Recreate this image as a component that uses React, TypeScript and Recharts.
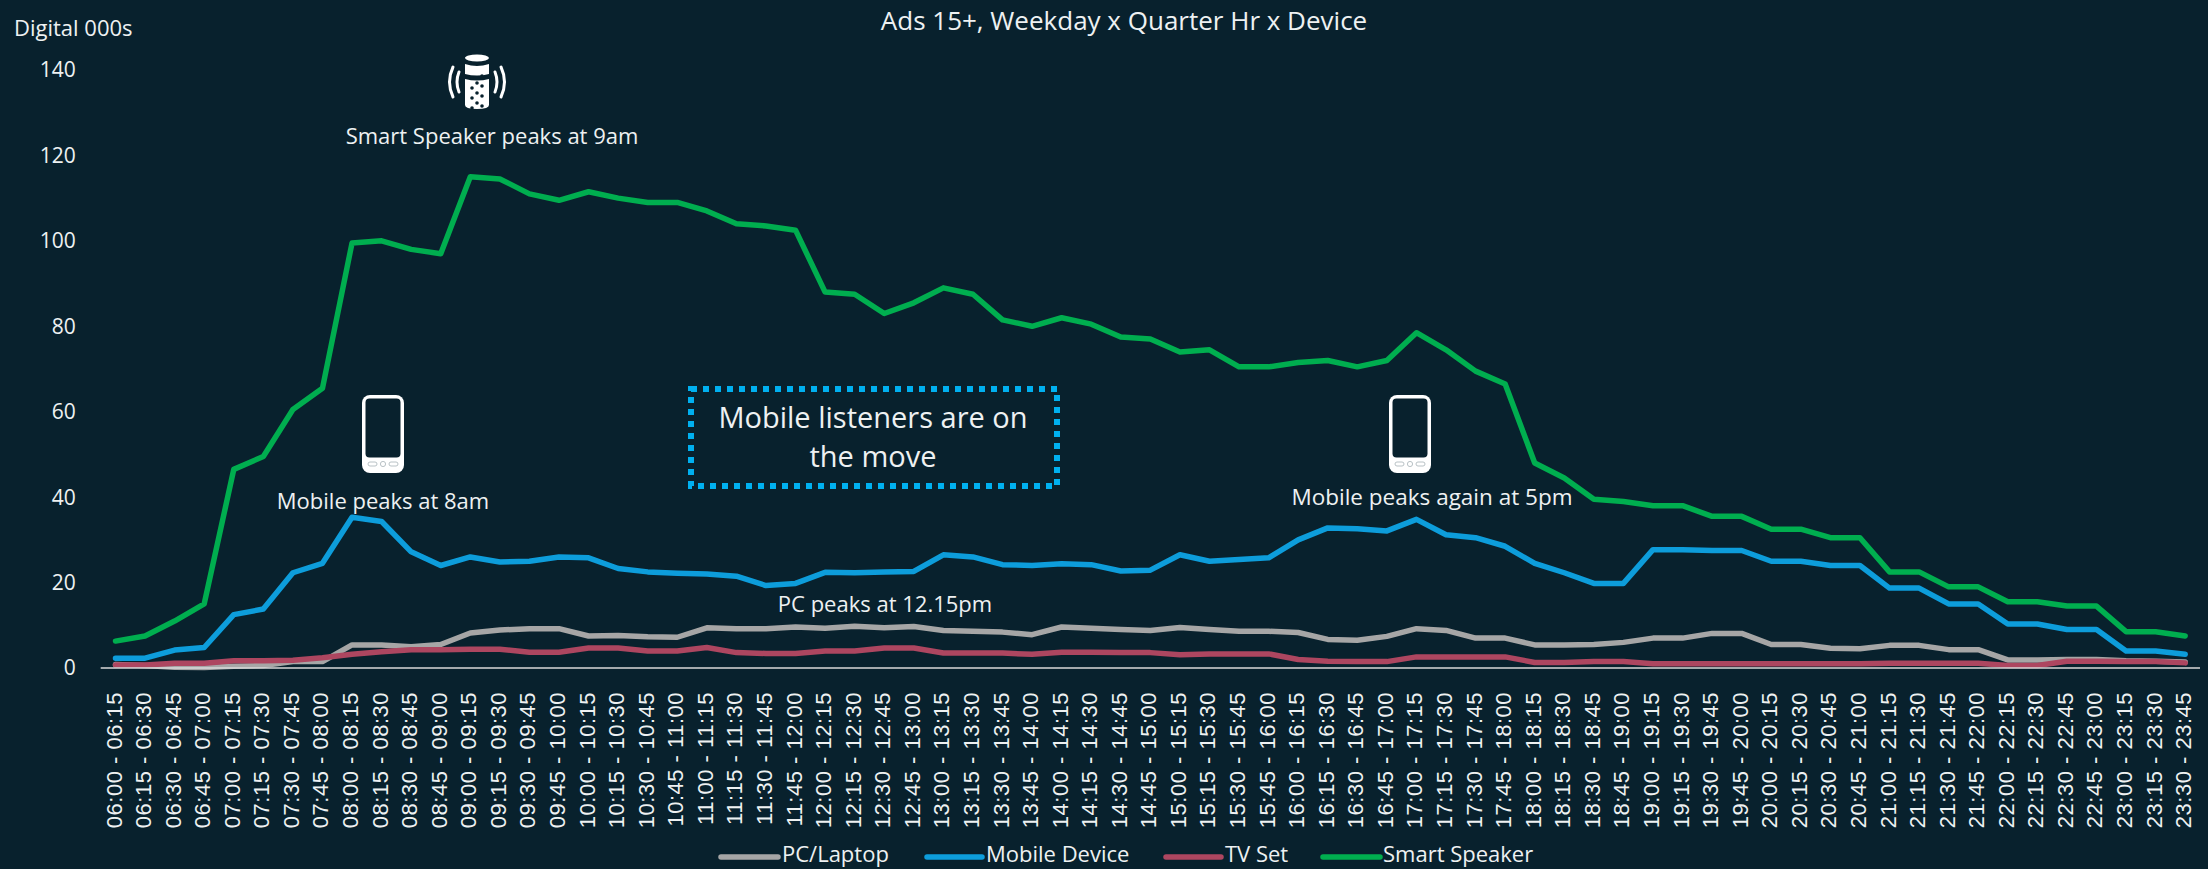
import React from 'react';
import { LineChart, Line, XAxis, YAxis, Legend } from 'recharts';

const hours = ['06', '07', '08', '09', '10', '11', '12', '13', '14', '15', '16', '17', '18', '19', '20', '21', '22', '23'];
const quarters = ['00', '15', '30', '45'];

const starts: string[] = hours.flatMap(h => quarters.map(q => `${h}:${q}`)).slice(0, 71);
const ends: string[] = hours.flatMap(h => quarters.map(q => `${h}:${q}`)).slice(1, 72);
const categories = starts.map((s, i) => `${s} - ${ends[i]}`);

const pcLaptop = [
  0.8, 0.6, 0.2, 0.1, 0.4, 0.6, 1.5, 1.5,
  5.4, 5.4, 5, 5.5, 8.2, 8.9, 9.2, 9.2,
  7.5, 7.6, 7.3, 7.2, 9.4, 9.2, 9.2, 9.6,
  9.3, 9.8, 9.4, 9.7, 8.8, 8.6, 8.4, 7.8,
  9.6, 9.3, 9, 8.8, 9.5, 9, 8.6, 8.6,
  8.3, 6.7, 6.5, 7.4, 9.2, 8.8, 7, 7,
  5.4, 5.4, 5.5, 6, 7, 7, 8.1, 8.1,
  5.5, 5.5, 4.6, 4.5, 5.3, 5.3, 4.3, 4.3,
  1.9, 1.9, 2, 2, 1.7, 1.6, 1.4,
];

const mobileDevice = [
  2.3, 2.3, 4.2, 4.8, 12.5, 13.8, 22.3, 24.5,
  35.3, 34.3, 27.2, 24, 26, 24.8, 25, 26,
  25.8, 23.3, 22.5, 22.2, 22, 21.5, 19.3, 19.8,
  22.4, 22.3, 22.5, 22.6, 26.5, 26, 24.2, 24,
  24.4, 24.2, 22.7, 22.9, 26.5, 25, 25.4, 25.8,
  30, 32.8, 32.6, 32.1, 34.8, 31.2, 30.5, 28.5,
  24.5, 22.3, 19.8, 19.8, 27.7, 27.7, 27.5, 27.5,
  25, 25, 24, 24, 18.7, 18.7, 15, 15,
  10.3, 10.3, 9, 9, 4, 4, 3.2,
];

const tvSet = [
  0.7, 0.7, 1.1, 1.1, 1.7, 1.7, 1.8, 2.4,
  3.2, 3.8, 4.3, 4.3, 4.4, 4.4, 3.7, 3.7,
  4.7, 4.7, 4, 4, 4.8, 3.6, 3.4, 3.4,
  4, 4, 4.7, 4.7, 3.5, 3.5, 3.5, 3.2,
  3.7, 3.7, 3.6, 3.6, 3.1, 3.3, 3.3, 3.3,
  2, 1.6, 1.5, 1.5, 2.6, 2.6, 2.6, 2.6,
  1.3, 1.3, 1.5, 1.5, 1, 1, 1, 1,
  1, 1, 1, 1, 1.1, 1.1, 1.1, 1.1,
  0.6, 0.6, 1.6, 1.6, 1.5, 1.5, 1.2,
];

const smartSpeaker = [
  6.3, 7.5, 11, 15, 46.5, 49.5, 60.5, 65.5,
  99.5, 100, 98, 97, 115, 114.5, 111, 109.5,
  111.5, 110, 109, 109, 107, 104, 103.5, 102.5,
  88, 87.5, 83, 85.5, 89, 87.5, 81.5, 80,
  82, 80.5, 77.5, 77, 74, 74.5, 70.5, 70.5,
  71.5, 72, 70.5, 72, 78.5, 74.5, 69.5, 66.5,
  48, 44.5, 39.5, 39, 38, 38, 35.5, 35.5,
  32.5, 32.5, 30.5, 30.5, 22.5, 22.5, 19, 19,
  15.5, 15.5, 14.5, 14.5, 8.5, 8.5, 7.5,
];

const yTicks = [0, 20, 40, 60, 80, 100, 120, 140];

const data = categories.map((name, i) => ({
  name,
  pc: pcLaptop[i],
  mobile: mobileDevice[i],
  tv: tvSet[i],
  smart: smartSpeaker[i],
}));

const BG = '#08212d';
const TEXT = '#eef1f2';
const UI_FONT = '"Open Sans", sans-serif';

const XTick = ({ x, y, payload }: any) => (
  <text
    x={x}
    y={y}
    transform={`rotate(-90 ${x} ${y})`}
    textAnchor="end"
    dy={6}
    dx={-16}
    fill={TEXT}
    fontSize={22}
    letterSpacing={0.5}
    fontFamily='"Liberation Sans", Arial, sans-serif'
  >
    {payload.value}
  </text>
);

// swatch start, swatch end and text start for each legend entry
const legendSlots = [
  [721, 778, 782],
  [927, 982, 986],
  [1166, 1221, 1225],
  [1323, 1380, 1383],
];

const LegendContent = ({ payload }: any) => (
  <svg width={2208} height={44} style={{ display: 'block' }}>
    {(payload || []).map((p: any, i: number) => (
      <g key={p.value}>
        <line x1={legendSlots[i][0]} x2={legendSlots[i][1]} y1={32} y2={32} stroke={p.color} strokeWidth={5.5} strokeLinecap="round" />
        <text x={legendSlots[i][2]} y={37} fill={TEXT} fontSize={22} fontFamily={UI_FONT}>{p.value}</text>
      </g>
    ))}
  </svg>
);

const PhoneIcon = ({ x, y }: { x: number; y: number }) => (
  <g transform={`translate(${x} ${y})`}>
    <rect x={0} y={0} width={42} height={78} rx={8} fill="#fff" />
    <rect x={3.5} y={3.5} width={35} height={59} rx={4} fill={BG} />
    <rect x={6} y={67} width={9} height={4} rx={2} fill="none" stroke="#b9c2c6" strokeWidth={1} />
    <circle cx={21} cy={69} r={2.6} fill="none" stroke="#b9c2c6" strokeWidth={1} />
    <rect x={27} y={67} width={9} height={4} rx={2} fill="none" stroke="#b9c2c6" strokeWidth={1} />
  </g>
);

const speakerDots = [
  [-5, 0], [5, -2], [0, 5], [-5, 10], [5, 8], [0, 15], [-5, 20], [5, 18], [0, 25], [-5, 30], [5, 28],
];

const SpeakerIcon = ({ x, y }: { x: number; y: number }) => (
  <g transform={`translate(${x} ${y})`}>
    <ellipse cx={0} cy={-22} rx={12} ry={3.5} fill="#fff" />
    <path d="M-12 -16 Q0 -12 12 -16 V-6 Q0 -3 -12 -6 Z" fill="#fff" />
    <path d="M-12 -1 Q0 2 12 -1 V25 Q12 29 0 29 Q-12 29 -12 25 Z" fill="#fff" />
    {speakerDots.map(([dx, dy], i) => (
      <circle key={i} cx={dx} cy={dy - 2} r={1.8} fill={BG} />
    ))}
    <path d="M-18 -8 Q-22 2 -18 12" fill="none" stroke="#fff" strokeWidth={3} strokeLinecap="round" />
    <path d="M18 -8 Q22 2 18 12" fill="none" stroke="#fff" strokeWidth={3} strokeLinecap="round" />
    <path d="M-24 -13 Q-31 2 -24 17" fill="none" stroke="#fff" strokeWidth={3} strokeLinecap="round" />
    <path d="M24 -13 Q31 2 24 17" fill="none" stroke="#fff" strokeWidth={3} strokeLinecap="round" />
  </g>
);

const Overlay = () => (
  <svg width={2208} height={869} style={{ position: 'absolute', left: 0, top: 0, pointerEvents: 'none' }} fontFamily={UI_FONT}>
    <text x={1124} y={30} textAnchor="middle" fill={TEXT} fontSize={26}>Ads 15+, Weekday x Quarter Hr x Device</text>
    <text x={14} y={36} fill={TEXT} fontSize={22}>Digital 000s</text>

    <SpeakerIcon x={477} y={80} />
    <PhoneIcon x={362} y={395} />
    <PhoneIcon x={1389} y={395} />

    <text x={492} y={144} textAnchor="middle" fill={TEXT} fontSize={22}>Smart Speaker peaks at 9am</text>
    <text x={383} y={509} textAnchor="middle" fill={TEXT} fontSize={22}>Mobile peaks at 8am</text>
    <text x={1432} y={505} textAnchor="middle" fill={TEXT} fontSize={22.5}>Mobile peaks again at 5pm</text>
    <text x={885} y={612} textAnchor="middle" fill={TEXT} fontSize={22}>PC peaks at 12.15pm</text>

    <rect x={691} y={389} width={366} height={97} fill="none" stroke="#00b0f0" strokeWidth={6} strokeDasharray="6 6" />
    <text x={873} y={428} textAnchor="middle" fill={TEXT} fontSize={29}>Mobile listeners are on</text>
    <text x={873} y={467} textAnchor="middle" fill={TEXT} fontSize={29}>the move</text>
  </svg>
);

const App: React.FC = () => (
  <div style={{ position: 'fixed', left: 0, top: 0, width: 2208, height: 869, background: BG, overflow: 'hidden' }}>
    <LineChart width={2208} height={869} data={data} margin={{ top: 70, right: 8, bottom: 0, left: 0 }}>
      <XAxis
        dataKey="name"
        interval={0}
        height={157}
        padding={{ left: 14.8, right: 14.8 }}
        tick={<XTick />}
        tickLine={false}
        axisLine={{ stroke: '#d9d9d9', strokeWidth: 1.5 }}
      />
      <YAxis
        width={100.7}
        domain={[0, 140]}
        ticks={yTicks}
        axisLine={false}
        tickLine={false}
        tickSize={0}
        tickMargin={25}
        tick={{ fill: TEXT, fontSize: 21, fontFamily: UI_FONT }}
      />
      <Legend
        verticalAlign="bottom"
        height={44}
        itemSorter={null}
        content={<LegendContent />}
        wrapperStyle={{ left: 0, bottom: 0, width: 2208 }}
      />
      <Line dataKey="pc" name="PC/Laptop" stroke="#a6a6a6" strokeWidth={5.5} dot={false} strokeLinecap="round" strokeLinejoin="round" isAnimationActive={false} />
      <Line dataKey="mobile" name="Mobile Device" stroke="#0d9ddb" strokeWidth={5.5} dot={false} strokeLinecap="round" strokeLinejoin="round" isAnimationActive={false} />
      <Line dataKey="tv" name="TV Set" stroke="#ad4660" strokeWidth={5.5} dot={false} strokeLinecap="round" strokeLinejoin="round" isAnimationActive={false} />
      <Line dataKey="smart" name="Smart Speaker" stroke="#00ae4f" strokeWidth={5.5} dot={false} strokeLinecap="round" strokeLinejoin="round" isAnimationActive={false} />
    </LineChart>
    <Overlay />
  </div>
);

export default App;
